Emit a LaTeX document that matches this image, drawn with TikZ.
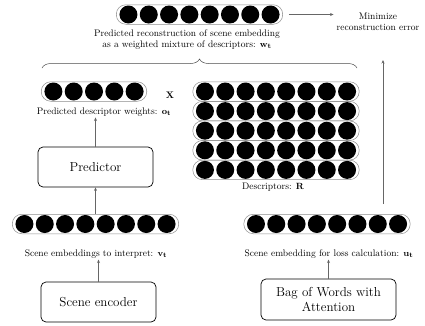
\documentclass[tikz,border=0pt]{standalone}
\usetikzlibrary{decorations.pathreplacing,arrows.meta}
\newcommand{\dotrow}[4]{% name, cx, cy, n
  \node[capsule,minimum width={#4*20.3pt+4pt}] (#1) at (#2,#3) {};
  \foreach \k in {1,...,#4} {
    \node[dot] (#1-\k) at ({#2+(\k-(#4+1)/2)*20.3},#3) {};
  }}
\begin{document}
\begin{tikzpicture}[x=1pt,y=-1pt,
  capsule/.style={draw=black!45,line width=0.5pt,rounded corners=9.5pt,minimum height=19.5pt,inner sep=0pt},
  dot/.style={circle,fill=black,minimum size=18pt,inner sep=0pt},
  lbl/.style={font=\fontsize{9.5}{11}\selectfont,inner sep=1pt,align=center},
  blk/.style={draw=black,line width=0.7pt,rounded corners=5pt,font=\fontsize{13}{15}\selectfont,align=center,inner sep=2pt},
  conn/.style={draw=black!60,line width=0.6pt,-{Stealth[length=3.5pt,width=3pt]}}]
\useasboundingbox (0,0) rectangle (425,325);
\dotrow{w}{199.5}{14.5}{8}
\dotrow{o}{94}{91.5}{5}
\dotrow{r1}{276}{91.5}{8}
\dotrow{r2}{276}{111.1}{8}
\dotrow{r3}{276}{130.7}{8}
\dotrow{r4}{276}{150.3}{8}
\dotrow{r5}{276}{169.9}{8}
\dotrow{v}{95.5}{224}{8}
\dotrow{u}{327}{224}{8}
% labels
\node[lbl] (wl) at (187,39.5) {Predicted reconstruction of scene embedding\\as a weighted mixture of descriptors: $\mathbf{w}_\mathbf{t}$};
\node[lbl] (minl) at (378,22) {Minimize\\reconstruction error};
\node[font=\bfseries\fontsize{9.5}{11}\selectfont] (x) at (170,95) {X};
\node[lbl] (ol) at (104,112) {Predicted descriptor weights: $\mathbf{o}_\mathbf{t}$};
\node[lbl] (rl) at (273,187) {Descriptors: $\mathbf{R}$};
\node[lbl] (vl) at (96,254) {Scene embeddings to interpret: $\mathbf{v}_\mathbf{t}$};
\node[lbl] (ul) at (329,254) {Scene embedding for loss calculation: $\mathbf{u}_\mathbf{t}$};
% boxes
\node[blk,minimum width=115pt,minimum height=40pt] (pred) at (95.5,167) {Predictor};
\node[blk,minimum width=115pt,minimum height=40pt] (enc) at (98.5,302) {Scene encoder};
\node[blk,minimum width=135pt,minimum height=41pt] (bow) at (328.5,299.5) {Bag of Words with\\Attention};
% brace
\coordinate (bl) at (42,68);
\coordinate (br) at (357,68);
\draw[black!70,line width=0.5pt,decorate,decoration={brace,amplitude=9pt}] (bl) -- (br);
% connectors
\draw[conn] (pred.north) -- (pred.north |- ol.south);
\draw[conn] (v.north) -- (pred.south);
\draw[conn] (enc.north) -- (enc.north |- vl.south);
\draw[conn] (bow.north) -- (bow.north |- ul.south);
\coordinate (rs) at (383,204);
\coordinate (re) at (383,60);
\draw[conn] (rs) -- (re);
\draw[conn,shorten <=6pt,shorten >=2pt] (w.east) -- (w.east -| minl.west);
\end{tikzpicture}
\end{document}
